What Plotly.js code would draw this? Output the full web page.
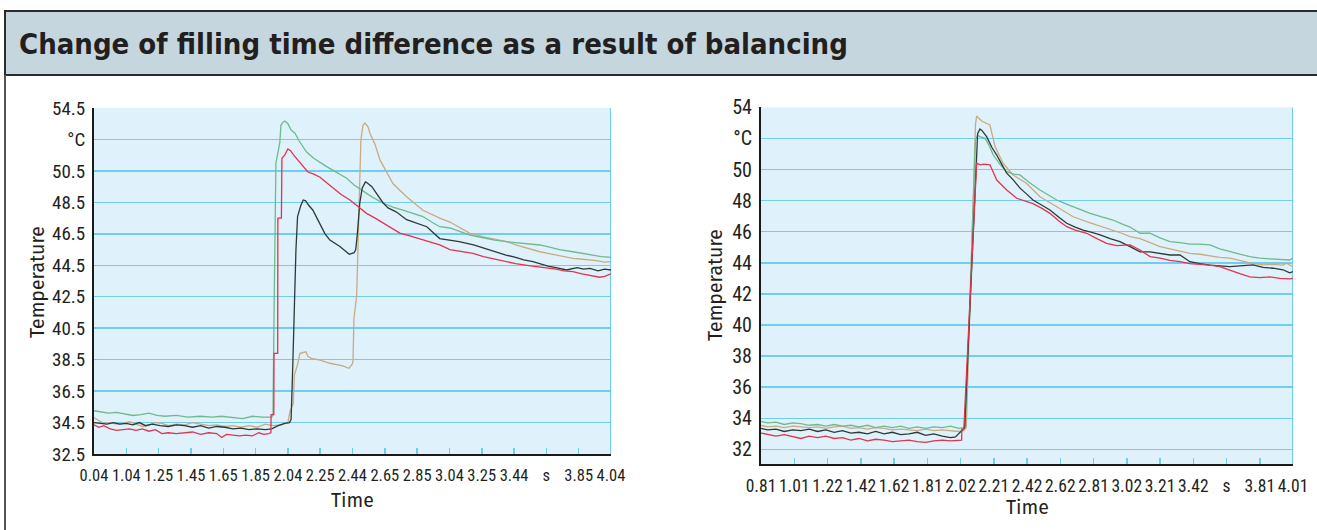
<!DOCTYPE html>
<html>
<head>
<meta charset="utf-8">
<script src="https://cdn.plot.ly/plotly-3.0.1.min.js"></script>
<style>html,body{margin:0;padding:0;background:#fff;}#chart{width:1317px;height:530px;}</style>
</head>
<body>
<div id="chart"></div>
<script>
// ---------- titles ----------
const chartTitle = 'Change of filling time difference as a result of balancing';
const yTitle = 'Temperature';
const xTitle = 'Time';

// ---------- left chart axes ----------
const leftTickPos = [0.84,1.04,1.24,1.44,1.64,1.84,2.04,2.24,2.44,2.64,2.84,3.04,3.24,3.44,3.64,3.84,4.04];
const leftTickText = ['0.04','1.04','1.25','1.45','1.65','1.85','2.04','2.25','2.44','2.65','2.85','3.04','3.25','3.44','s','3.85','4.04'];
const leftYTicks = [32.5,34.5,36.5,38.5,40.5,42.5,44.5,46.5,48.5,50.5,52.5,54.5];
const leftYText = ['32.5','34.5','36.5','38.5','40.5','42.5','44.5','46.5','48.5','50.5','°C','54.5'];

// ---------- right chart axes ----------
const rightTickPos = [0.81,1.01,1.21,1.41,1.61,1.81,2.01,2.21,2.41,2.61,2.81,3.01,3.21,3.41,3.61,3.81,4.01];
const rightTickText = ['0.81','1.01','1.22','1.42','1.62','1.81','2.02','2.21','2.42','2.62','2.81','3.02','3.21','3.42','s','3.81','4.01'];
const rightYTicks = [32,34,36,38,40,42,44,46,48,50,52,54];
const rightYText = ['32','34','36','38','40','42','44','46','48','50','°C','54'];

// ---------- left chart series (time s, temperature °C) ----------
const leftGreenT = [0.84,0.88,0.93,0.98,1.03,1.08,1.13,1.18,1.23,1.28,1.35,1.42,1.5,1.57,1.63,1.7,1.76,1.82,1.88,1.94,1.948,1.955,1.966,1.99,1.997,2.01,2.022,2.04,2.06,2.084,2.11,2.156,2.2,2.28,2.34,2.404,2.45,2.505,2.56,2.628,2.69,2.752,2.81,2.876,2.93,2.98,3.043,3.1,3.167,3.25,3.32,3.394,3.45,3.52,3.6,3.66,3.72,3.804,3.86,3.92,3.98,4.04];
const leftGreenV = [35.25,35.2,35.1,35.15,35.05,34.95,35.0,35.1,34.95,34.9,34.95,34.85,34.9,34.85,34.9,34.8,34.75,34.9,34.85,34.85,35.0,42.0,51.0,52.3,53.4,53.6,53.67,53.5,53.1,52.9,52.4,51.7,51.3,50.77,50.4,50.03,49.6,49.2,48.85,48.46,48.2,48.0,47.8,47.6,47.25,46.95,46.87,46.65,46.42,46.25,46.1,46.0,45.95,45.85,45.79,45.65,45.5,45.36,45.25,45.15,45.05,45.0];

const leftRedT = [0.84,0.87,0.9,0.94,0.98,1.02,1.06,1.1,1.14,1.18,1.22,1.26,1.3,1.35,1.4,1.45,1.5,1.55,1.6,1.63,1.66,1.7,1.74,1.78,1.82,1.86,1.89,1.92,1.935,1.936,1.953,1.954,1.977,1.978,2.0,2.003,2.02,2.04,2.055,2.08,2.1,2.115,2.14,2.164,2.2,2.239,2.28,2.319,2.37,2.424,2.47,2.527,2.58,2.628,2.68,2.733,2.8,2.876,2.93,2.98,3.043,3.1,3.185,3.25,3.32,3.394,3.45,3.52,3.6,3.65,3.7,3.75,3.804,3.86,3.92,3.97,4.0,4.04];
const leftRedV = [34.35,34.2,34.3,34.1,34.0,34.05,34.1,34.0,34.1,33.95,34.05,33.8,33.85,33.8,33.85,33.9,33.75,33.85,33.8,33.55,33.75,33.7,33.65,33.7,33.65,33.85,33.75,33.8,33.85,35.0,35.0,38.9,38.9,47.5,47.5,51.3,51.5,51.9,51.8,51.45,51.2,51.0,50.7,50.43,50.3,50.1,49.75,49.4,49.0,48.65,48.25,47.8,47.5,47.2,46.85,46.55,46.35,46.1,45.95,45.79,45.5,45.4,45.26,45.05,44.9,44.73,44.6,44.5,44.4,44.3,44.25,44.15,44.1,43.95,43.85,43.74,43.8,43.95];

const leftBlackT = [0.84,0.88,0.92,0.96,1.0,1.04,1.08,1.12,1.16,1.2,1.25,1.3,1.35,1.4,1.45,1.5,1.55,1.6,1.65,1.7,1.75,1.8,1.85,1.9,1.94,1.98,2.02,2.05,2.06,2.07,2.08,2.09,2.1,2.12,2.135,2.15,2.17,2.195,2.22,2.25,2.27,2.3,2.33,2.362,2.39,2.42,2.45,2.46,2.47,2.485,2.5,2.52,2.53,2.56,2.6,2.63,2.66,2.71,2.775,2.83,2.9,2.98,3.04,3.1,3.19,3.25,3.3,3.39,3.45,3.5,3.557,3.6,3.65,3.7,3.765,3.83,3.87,3.91,3.96,4.0,4.04];
const leftBlackV = [34.5,34.45,34.4,34.5,34.4,34.45,34.35,34.5,34.3,34.4,34.3,34.25,34.35,34.3,34.2,34.3,34.15,34.25,34.2,34.1,34.15,34.05,34.1,34.05,34.1,34.3,34.45,34.5,34.7,38.0,42.5,45.5,47.6,48.3,48.65,48.6,48.3,48.0,47.5,46.95,46.5,46.1,45.9,45.7,45.45,45.2,45.3,45.5,46.5,48.45,49.4,49.8,49.75,49.5,48.9,48.46,48.15,47.9,47.4,47.2,46.95,46.2,46.1,46.0,45.79,45.6,45.4,45.15,45.0,44.85,44.73,44.6,44.45,44.35,44.2,44.35,44.25,44.3,44.15,44.25,44.2];

const leftTanT = [0.84,0.87,0.9,0.94,0.98,1.02,1.06,1.1,1.14,1.18,1.22,1.26,1.3,1.35,1.4,1.45,1.5,1.55,1.6,1.65,1.7,1.75,1.8,1.85,1.9,1.95,2.0,2.04,2.053,2.073,2.08,2.1,2.115,2.133,2.152,2.164,2.187,2.239,2.3,2.38,2.418,2.437,2.443,2.449,2.466,2.48,2.492,2.505,2.517,2.536,2.548,2.579,2.61,2.69,2.775,2.876,2.98,3.043,3.1,3.167,3.25,3.3,3.394,3.45,3.5,3.55,3.6,3.65,3.7,3.75,3.804,3.85,3.9,3.95,4.0,4.04];
const leftTanV = [34.8,34.6,34.45,34.5,34.4,34.45,34.55,34.4,34.25,34.35,34.5,34.45,34.3,34.4,34.35,34.5,34.4,34.3,34.35,34.25,34.3,34.2,34.3,34.2,34.4,34.3,34.35,34.5,35.2,35.7,37.5,38.2,38.9,38.94,39.0,38.7,38.58,38.47,38.27,38.1,37.95,38.2,38.37,41.1,42.6,48.0,52.5,53.4,53.55,53.3,52.9,52.2,51.2,49.7,48.86,48.0,47.5,47.25,46.9,46.53,46.3,46.2,46.0,45.8,45.65,45.5,45.36,45.25,45.15,45.05,44.94,44.9,44.85,44.8,44.7,44.73];

// ---------- right chart series ----------
const rightRedT = [0.81,0.85,0.9,0.95,1.0,1.05,1.1,1.15,1.2,1.25,1.3,1.35,1.4,1.45,1.5,1.55,1.6,1.65,1.7,1.75,1.8,1.85,1.9,1.95,2.0,2.017,2.018,2.03,2.107,2.13,2.15,2.187,2.228,2.288,2.348,2.4,2.446,2.5,2.548,2.6,2.649,2.7,2.769,2.83,2.889,2.95,3.03,3.09,3.15,3.21,3.27,3.33,3.39,3.45,3.51,3.57,3.63,3.69,3.75,3.81,3.87,3.93,3.99,4.01];
const rightRedV = [33.05,32.95,32.85,32.95,32.8,32.7,32.85,32.75,32.85,32.7,32.75,32.6,32.7,32.55,32.65,32.6,32.5,32.55,32.6,32.5,32.45,32.55,32.6,32.55,32.6,32.6,33.3,33.3,50.4,50.3,50.35,50.3,49.32,48.68,48.15,47.95,47.8,47.5,47.18,46.7,46.32,46.1,45.9,45.55,45.25,45.1,45.15,44.82,44.4,44.3,44.15,44.07,43.95,43.9,43.85,43.75,43.5,43.3,43.1,43.05,43.1,43.0,42.96,43.0];

const rightBlackT = [0.81,0.85,0.9,0.95,1.0,1.05,1.1,1.15,1.2,1.25,1.3,1.35,1.4,1.45,1.5,1.55,1.6,1.65,1.7,1.75,1.8,1.85,1.9,1.95,1.98,2.0,2.025,2.035,2.113,2.127,2.14,2.168,2.2,2.228,2.26,2.288,2.33,2.368,2.41,2.446,2.5,2.548,2.6,2.649,2.7,2.747,2.8,2.85,2.91,2.969,3.03,3.09,3.15,3.21,3.27,3.33,3.39,3.45,3.51,3.57,3.63,3.69,3.77,3.83,3.89,3.95,3.99,4.01];
const rightBlackV = [33.35,33.25,33.3,33.15,33.25,33.2,33.3,33.15,33.25,33.1,33.2,33.05,33.1,33.0,33.15,33.0,33.1,32.95,33.0,33.1,32.9,33.0,32.85,32.75,32.8,33.0,33.3,33.4,52.3,52.6,52.5,52.1,51.4,50.93,50.3,49.76,49.3,48.8,48.4,48.04,47.7,47.4,46.95,46.54,46.3,46.1,45.95,45.8,45.55,45.36,45.04,44.7,44.7,44.6,44.5,44.5,44.07,43.95,43.85,43.8,43.75,43.8,43.86,43.7,43.65,43.55,43.35,43.43];

const rightGreenT = [0.81,0.85,0.9,0.95,1.0,1.05,1.1,1.15,1.2,1.25,1.3,1.35,1.4,1.45,1.5,1.55,1.6,1.65,1.7,1.75,1.8,1.85,1.9,1.95,2.0,2.03,2.04,2.1,2.113,2.13,2.157,2.18,2.207,2.25,2.288,2.33,2.368,2.42,2.488,2.54,2.589,2.64,2.687,2.74,2.79,2.86,2.927,2.98,3.03,3.09,3.15,3.21,3.27,3.33,3.39,3.45,3.51,3.57,3.63,3.69,3.75,3.81,3.87,3.93,3.99,4.01];
const rightGreenV = [33.8,33.7,33.75,33.6,33.7,33.65,33.55,33.6,33.5,33.6,33.5,33.55,33.45,33.55,33.4,33.5,33.4,33.5,33.35,33.45,33.35,33.45,33.4,33.5,33.35,33.4,33.5,51.9,52.2,52.1,52.0,51.6,50.93,50.3,49.86,49.7,49.65,49.2,48.68,48.35,48.04,47.8,47.6,47.4,47.18,46.95,46.75,46.5,46.3,45.9,45.9,45.6,45.36,45.3,45.2,45.2,45.15,44.9,44.7,44.55,44.4,44.3,44.25,44.2,44.18,44.3];

const rightTanT = [0.81,0.85,0.9,0.95,1.0,1.05,1.1,1.15,1.2,1.25,1.3,1.35,1.4,1.45,1.5,1.55,1.6,1.65,1.7,1.75,1.8,1.85,1.9,1.95,2.0,2.03,2.045,2.1,2.107,2.12,2.14,2.187,2.2,2.218,2.266,2.326,2.408,2.488,2.589,2.687,2.79,2.85,2.927,2.98,3.03,3.09,3.15,3.21,3.27,3.33,3.39,3.45,3.51,3.57,3.63,3.69,3.75,3.83,3.89,3.95,3.97,4.01];
const rightTanV = [33.55,33.45,33.5,33.4,33.5,33.45,33.4,33.45,33.35,33.45,33.5,33.35,33.4,33.3,33.4,33.35,33.25,33.3,33.25,33.2,33.3,33.2,33.25,33.2,33.15,33.2,33.4,52.9,53.44,53.3,53.1,52.86,52.2,51.47,50.4,49.65,49.1,48.25,47.6,46.96,46.56,46.35,46.1,45.9,45.68,45.55,45.3,45.04,44.9,44.75,44.6,44.55,44.45,44.35,44.3,44.15,44.0,43.86,43.9,43.85,43.97,43.75];

// ---------- styling ----------
const colRed = '#e2334f', colGreen = '#6dbb8c', colBlack = '#2c3a36', colTan = '#c9ab82';
const gridCol = '#6fcdf0';
const txtCol = '#231f20';
const tickFont = 'Roboto Condensed, DejaVu Sans Condensed, sans-serif';
const labelFont = 'Fira Sans, Lato, sans-serif';
const W = 1317, H = 530;
const px = v => v / W, py = v => 1 - v / H;

function tr(x, y, col, xa, ya) {
  return {x: x, y: y, type: 'scatter', mode: 'lines', xaxis: xa, yaxis: ya,
          line: {color: col, width: 1.3}, hoverinfo: 'skip', showlegend: false};
}

const data = [
  tr(leftTanT, leftTanV, colTan, 'x', 'y'),
  tr(leftGreenT, leftGreenV, colGreen, 'x', 'y'),
  tr(leftBlackT, leftBlackV, colBlack, 'x', 'y'),
  tr(leftRedT, leftRedV, colRed, 'x', 'y'),
  tr(rightTanT, rightTanV, colTan, 'x2', 'y2'),
  tr(rightGreenT, rightGreenV, colGreen, 'x2', 'y2'),
  tr(rightBlackT, rightBlackV, colBlack, 'x2', 'y2'),
  tr(rightRedT, rightRedV, colRed, 'x2', 'y2')
];

function xAxis(dom, range, pos, text, anchor, standoff, size) {
  return {domain: dom, range: range, anchor: anchor, tickmode: 'array', tickvals: pos, ticktext: text,
    showgrid: false, zeroline: false, showline: true, linecolor: '#1a1a1a', linewidth: 2,
    ticks: 'inside', ticklen: 6, tickwidth: 1.5, tickcolor: gridCol, ticklabelstandoff: standoff, tickangle: 0,
    tickfont: {family: tickFont, size: size, color: txtCol}, fixedrange: true};
}
function yAxis(dom, range, pos, text, anchor, size) {
  return {domain: dom, range: range, anchor: anchor, tickmode: 'array', tickvals: pos, ticktext: text,
    showgrid: true, gridcolor: gridCol, gridwidth: 1.5, zeroline: false, showline: true,
    linecolor: '#1a1a1a', linewidth: 2, ticks: '', ticklabelstandoff: 3,
    tickfont: {family: tickFont, size: size, color: txtCol}, fixedrange: true};
}

const layout = {
  width: W, height: H, margin: {l: 0, r: 0, t: 0, b: 0},
  paper_bgcolor: '#ffffff', plot_bgcolor: '#dff1fb', showlegend: false,
  xaxis: xAxis([px(94), px(611)], [0.84, 4.04], leftTickPos, leftTickText, 'y', 5, 16.5),
  yaxis: yAxis([py(454), py(108)], [32.5, 54.5], leftYTicks, leftYText, 'x', 19),
  xaxis2: xAxis([px(761), px(1293)], [0.81, 4.01], rightTickPos, rightTickText, 'y2', 5, 17.5),
  yaxis2: yAxis([py(464.3), py(107.3)], [31.04, 54], rightYTicks, rightYText, 'x2', 20),
  shapes: [
    {type: 'rect', xref: 'paper', yref: 'paper', x0: px(5), x1: 1.02, y0: py(75), y1: py(11),
     fillcolor: '#c6d6de', line: {color: '#2b2b2b', width: 2}, layer: 'below'},
    {type: 'line', xref: 'paper', yref: 'paper', x0: px(5), x1: px(5), y0: -0.02, y1: py(75),
     line: {color: '#555555', width: 2}},
    {type: 'line', xref: 'x', yref: 'y', x0: 4.04, x1: 4.04, y0: 32.5, y1: 54.5,
     line: {color: gridCol, width: 2}, layer: 'below'},
    {type: 'line', xref: 'x2', yref: 'y2', x0: 4.01, x1: 4.01, y0: 31.04, y1: 54,
     line: {color: gridCol, width: 2}, layer: 'below'}
  ],
  annotations: [
    {text: '<b>' + chartTitle + '</b>', xref: 'paper', yref: 'paper', x: px(17), y: py(44),
     xanchor: 'left', yanchor: 'middle', showarrow: false,
     font: {family: 'DejaVu Sans Condensed, sans-serif', size: 29, color: txtCol}},
    {text: yTitle, xref: 'paper', yref: 'paper', x: px(37), y: py(282), textangle: -90,
     xanchor: 'center', yanchor: 'middle', showarrow: false, font: {family: labelFont, size: 19.5, color: txtCol}},
    {text: yTitle, xref: 'paper', yref: 'paper', x: px(715), y: py(285), textangle: -90,
     xanchor: 'center', yanchor: 'middle', showarrow: false, font: {family: labelFont, size: 19.5, color: txtCol}},
    {text: xTitle, xref: 'paper', yref: 'paper', x: px(352.5), y: py(500), xanchor: 'center', yanchor: 'middle',
     showarrow: false, font: {family: labelFont, size: 19.5, color: txtCol}},
    {text: xTitle, xref: 'paper', yref: 'paper', x: px(1027), y: py(507), xanchor: 'center', yanchor: 'middle',
     showarrow: false, font: {family: labelFont, size: 19.5, color: txtCol}}
  ]
};

Plotly.newPlot('chart', data, layout, {displayModeBar: false, staticPlot: true});
</script>
</body>
</html>
